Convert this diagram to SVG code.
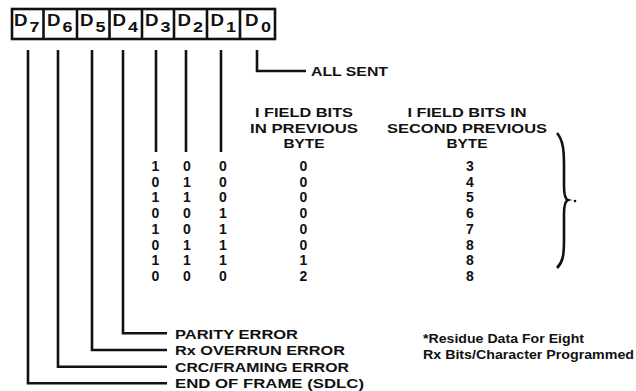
<svg xmlns="http://www.w3.org/2000/svg" width="636" height="391" viewBox="0 0 636 391">
<style>
text{font-family:"Liberation Sans",Arial,Helvetica,sans-serif;font-weight:bold;fill:#111;}
.t{font-size:13.5px;}
.n{font-size:14px;text-anchor:middle;}
.c{text-anchor:middle;}
.d{font-size:16px;}
.s{font-size:15px;}
.ln{stroke:#111;stroke-width:2.6;fill:none;stroke-linecap:butt;}
.bx{stroke:#111;stroke-width:2.6;fill:#fff;}
</style>
<rect width="636" height="391" fill="#fff"/>
<g id="register">
<rect class="bx" x="12" y="9" width="263" height="30" stroke-width="3"/>
<g class="ln"><line x1="43.5" y1="9" x2="43.5" y2="39"/><line x1="77" y1="9" x2="77" y2="39"/><line x1="109.5" y1="9" x2="109.5" y2="39"/><line x1="142" y1="9" x2="142" y2="39"/><line x1="174" y1="9" x2="174" y2="39"/><line x1="207" y1="9" x2="207" y2="39"/><line x1="240" y1="9" x2="240" y2="39"/></g>
<g id="bit-d7"><text class="d" x="14" y="26" textLength="13.5" lengthAdjust="spacingAndGlyphs">D</text><text class="s" x="29.5" y="31.5" textLength="10" lengthAdjust="spacingAndGlyphs">7</text></g>
<g id="bit-d6"><text class="d" x="47" y="26" textLength="13.5" lengthAdjust="spacingAndGlyphs">D</text><text class="s" x="62.5" y="31.5" textLength="10" lengthAdjust="spacingAndGlyphs">6</text></g>
<g id="bit-d5"><text class="d" x="80" y="26" textLength="13.5" lengthAdjust="spacingAndGlyphs">D</text><text class="s" x="95.5" y="31.5" textLength="10" lengthAdjust="spacingAndGlyphs">5</text></g>
<g id="bit-d4"><text class="d" x="112.5" y="26" textLength="13.5" lengthAdjust="spacingAndGlyphs">D</text><text class="s" x="128" y="31.5" textLength="10" lengthAdjust="spacingAndGlyphs">4</text></g>
<g id="bit-d3"><text class="d" x="145" y="26" textLength="13.5" lengthAdjust="spacingAndGlyphs">D</text><text class="s" x="160.5" y="31.5" textLength="10" lengthAdjust="spacingAndGlyphs">3</text></g>
<g id="bit-d2"><text class="d" x="177.5" y="26" textLength="13.5" lengthAdjust="spacingAndGlyphs">D</text><text class="s" x="193" y="31.5" textLength="10" lengthAdjust="spacingAndGlyphs">2</text></g>
<g id="bit-d1"><text class="d" x="210.5" y="26" textLength="13.5" lengthAdjust="spacingAndGlyphs">D</text><text class="s" x="226" y="31.5" textLength="10" lengthAdjust="spacingAndGlyphs">1</text></g>
<g id="bit-d0"><text class="d" x="245" y="26" textLength="13.5" lengthAdjust="spacingAndGlyphs">D</text><text class="s" x="261" y="31.5" textLength="10" lengthAdjust="spacingAndGlyphs">0</text></g>
</g>
<g id="connectors" class="ln">
<polyline points="28,50 28,383.3 167,383.3"/>
<polyline points="58,50 58,366.7 167,366.7"/>
<polyline points="92,50 92,350 167,350"/>
<polyline points="123,50 123,333.3 167,333.3"/>
<line x1="156" y1="50" x2="156" y2="152"/>
<line x1="186" y1="50" x2="186" y2="152"/>
<line x1="221" y1="50" x2="221" y2="152"/>
<polyline points="257,50 257,71 306,71"/>
<path d="M557,133 C563,140 564,150 564,165 L564,186 C564,195 565,199 568,200 C565,201 564,205 564,214 L564,240 C564,255 563,262 557,268" stroke-width="2.6"/>
</g>
<g id="label-all-sent"><text class="t" x="311" y="75.5" textLength="77" lengthAdjust="spacingAndGlyphs">ALL SENT</text></g>
<g id="header-previous">
<text class="t c" x="304" y="117" textLength="98" lengthAdjust="spacingAndGlyphs">I FIELD BITS</text>
<text class="t c" x="304" y="132.7" textLength="108" lengthAdjust="spacingAndGlyphs">IN PREVIOUS</text>
<text class="t c" x="304" y="148.4" textLength="41" lengthAdjust="spacingAndGlyphs">BYTE</text>
</g>
<g id="header-second">
<text class="t c" x="467" y="117" textLength="119" lengthAdjust="spacingAndGlyphs">I FIELD BITS IN</text>
<text class="t c" x="467" y="132.7" textLength="160" lengthAdjust="spacingAndGlyphs">SECOND PREVIOUS</text>
<text class="t c" x="467" y="148.4" textLength="41" lengthAdjust="spacingAndGlyphs">BYTE</text>
</g>
<g id="table">
<text class="n" x="155.5" y="171">1</text><text class="n" x="187" y="171">0</text><text class="n" x="223" y="171">0</text><text class="n" x="303.5" y="171">0</text><text class="n" x="470" y="171">3</text>
<text class="n" x="155.5" y="186.7">0</text><text class="n" x="187" y="186.7">1</text><text class="n" x="223" y="186.7">0</text><text class="n" x="303.5" y="186.7">0</text><text class="n" x="470" y="186.7">4</text>
<text class="n" x="155.5" y="202.4">1</text><text class="n" x="187" y="202.4">1</text><text class="n" x="223" y="202.4">0</text><text class="n" x="303.5" y="202.4">0</text><text class="n" x="470" y="202.4">5</text>
<text class="n" x="155.5" y="218.1">0</text><text class="n" x="187" y="218.1">0</text><text class="n" x="223" y="218.1">1</text><text class="n" x="303.5" y="218.1">0</text><text class="n" x="470" y="218.1">6</text>
<text class="n" x="155.5" y="233.8">1</text><text class="n" x="187" y="233.8">0</text><text class="n" x="223" y="233.8">1</text><text class="n" x="303.5" y="233.8">0</text><text class="n" x="470" y="233.8">7</text>
<text class="n" x="155.5" y="249.5">0</text><text class="n" x="187" y="249.5">1</text><text class="n" x="223" y="249.5">1</text><text class="n" x="303.5" y="249.5">0</text><text class="n" x="470" y="249.5">8</text>
<text class="n" x="155.5" y="265.2">1</text><text class="n" x="187" y="265.2">1</text><text class="n" x="223" y="265.2">1</text><text class="n" x="303.5" y="265.2">1</text><text class="n" x="470" y="265.2">8</text>
<text class="n" x="155.5" y="281">0</text><text class="n" x="187" y="281">0</text><text class="n" x="223" y="281">0</text><text class="n" x="303.5" y="281">2</text><text class="n" x="470" y="281">8</text>
</g>
<circle cx="575" cy="201" r="1.3" fill="#111"/>
<g id="status-labels">
<text class="t" x="175" y="338.5" textLength="123" lengthAdjust="spacingAndGlyphs">PARITY ERROR</text>
<text class="t" x="175" y="355" textLength="170" lengthAdjust="spacingAndGlyphs">Rx OVERRUN ERROR</text>
<text class="t" x="175" y="371.7" textLength="174" lengthAdjust="spacingAndGlyphs">CRC/FRAMING ERROR</text>
<text class="t" x="175" y="387.5" textLength="189" lengthAdjust="spacingAndGlyphs">END OF FRAME (SDLC)</text>
</g>
<g id="footnote">
<text class="t" x="423" y="342.5" textLength="161" lengthAdjust="spacingAndGlyphs">*Residue Data For Eight</text>
<text class="t" x="423" y="359" textLength="211" lengthAdjust="spacingAndGlyphs">Rx Bits/Character Programmed</text>
</g>
</svg>
